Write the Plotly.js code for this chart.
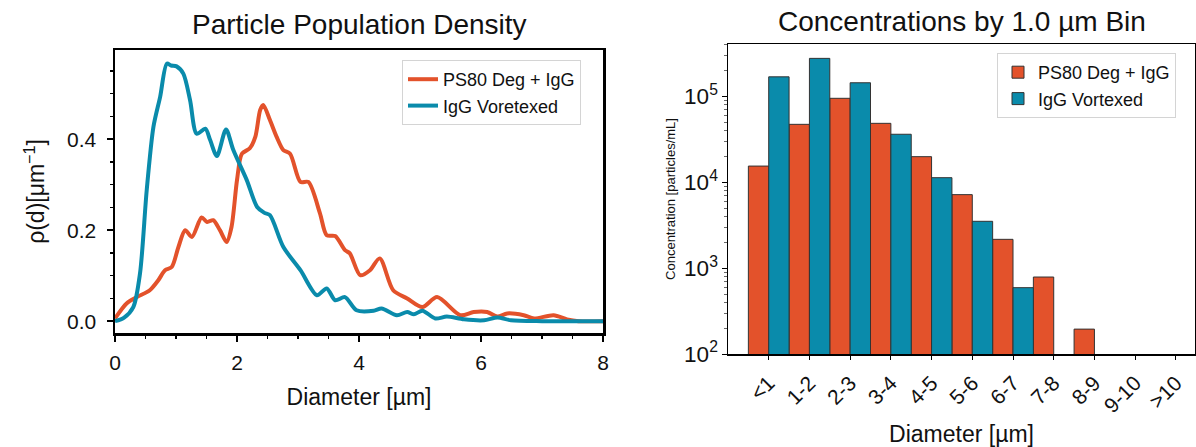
<!DOCTYPE html>
<html>
<head>
<meta charset="utf-8">
<script src="https://cdn.plot.ly/plotly-3.0.1.min.js"></script>
<style>html,body{margin:0;padding:0;background:#fff;}#chart{width:1196px;height:447px;}</style>
</head>
<body>
<div id="chart"></div>
<script>
// ---- Density curves (left panel) ----
const ps80X = [0, 0.19, 0.36, 0.57, 0.71, 0.82, 0.93, 1.04, 1.15, 1.26, 1.42, 1.51, 1.61, 1.72, 1.83, 1.91, 2.00, 2.08, 2.21, 2.30, 2.38, 2.43, 2.54, 2.65, 2.76, 2.87, 3.04, 3.17, 3.36, 3.47, 3.61, 3.77, 3.85, 4.02, 4.18, 4.34, 4.56, 4.79, 5.04, 5.28, 5.66, 5.88, 6.10, 6.27, 6.43, 6.70, 6.87, 7.19, 7.41, 7.6, 8.0];
const ps80Y = [0.006, 0.039, 0.053, 0.068, 0.09, 0.112, 0.119, 0.163, 0.20, 0.185, 0.228, 0.218, 0.222, 0.20, 0.174, 0.207, 0.31, 0.368, 0.38, 0.405, 0.464, 0.475, 0.442, 0.405, 0.376, 0.368, 0.306, 0.306, 0.237, 0.189, 0.187, 0.156, 0.149, 0.101, 0.112, 0.138, 0.068, 0.05, 0.031, 0.053, 0.013, 0.02, 0.02, 0.01, 0.017, 0.013, 0.006, 0.013, 0.004, 0, 0];
const iggX = [0, 0.15, 0.30, 0.41, 0.52, 0.63, 0.74, 0.85, 0.92, 1.01, 1.12, 1.23, 1.34, 1.48, 1.56, 1.67, 1.82, 1.94, 2.16, 2.33, 2.45, 2.54, 2.76, 3.04, 3.31, 3.47, 3.61, 3.77, 3.96, 4.24, 4.37, 4.62, 4.79, 4.90, 5.04, 5.25, 5.44, 5.72, 6.05, 6.27, 6.49, 7.0, 8.0];
const iggY = [0, 0.008, 0.031, 0.105, 0.288, 0.427, 0.493, 0.566, 0.562, 0.56, 0.544, 0.486, 0.412, 0.423, 0.398, 0.363, 0.421, 0.376, 0.31, 0.251, 0.238, 0.233, 0.163, 0.112, 0.057, 0.072, 0.046, 0.053, 0.024, 0.023, 0.028, 0.013, 0.02, 0.015, 0.023, 0.006, 0.01, 0.004, 0.002, 0.008, 0.002, 0, 0];

// ---- Binned concentrations (right panel) ----
const bins = ['<1', '1-2', '2-3', '3-4', '4-5', '5-6', '6-7', '7-8', '8-9', '9-10', '>10'];
const ps80Conc = [15500, 47500, 95500, 48800, 19950, 7200, 2170, 789, 195, null, null];
const iggConc = [170000, 279000, 145000, 36400, 11350, 3520, 593, null, null, null, null];

const seriesNames = ['PS80 Deg + IgG', 'IgG Voretexed', 'IgG Vortexed'];
const orange = '#E3522B';
const blue = '#0A8BAB';
const FONT = 'Liberation Sans, Arial, sans-serif';

const traces = [
  {x: ps80X, y: ps80Y, type: 'scatter', mode: 'lines', name: seriesNames[0],
   line: {color: orange, width: 4, shape: 'spline', smoothing: 0.8}, xaxis: 'x', yaxis: 'y', legend: 'legend'},
  {x: iggX, y: iggY, type: 'scatter', mode: 'lines', name: seriesNames[1],
   line: {color: blue, width: 4, shape: 'spline', smoothing: 0.8}, xaxis: 'x', yaxis: 'y', legend: 'legend'},
  {x: bins, y: ps80Conc, type: 'bar', name: seriesNames[0],
   marker: {color: orange, line: {color: '#333', width: 1}}, xaxis: 'x2', yaxis: 'y2', legend: 'legend2'},
  {x: bins, y: iggConc, type: 'bar', name: seriesNames[2],
   marker: {color: blue, line: {color: '#333', width: 1}}, xaxis: 'x2', yaxis: 'y2', legend: 'legend2'}
];

const layout = {
  width: 1196, height: 447,
  margin: {l: 0, r: 0, t: 0, b: 0},
  paper_bgcolor: '#fff', plot_bgcolor: '#fff',
  font: {family: FONT, color: '#111'},
  barmode: 'group', bargap: 0, bargroupgap: 0,
  xaxis: {
    domain: [115/1196, 603/1196], anchor: 'y', range: [0, 8],
    tickmode: 'linear', tick0: 0, dtick: 2,
    ticks: 'outside', ticklen: 6, tickwidth: 2, tickcolor: '#000',
    minor: {ticks: 'outside', dtick: 0.5, ticklen: 3, tickwidth: 1.5, tickcolor: '#000'},
    showline: true, linewidth: 2.5, linecolor: '#000', mirror: true,
    showgrid: false, zeroline: false, ticklabelstandoff: 3,
    tickfont: {size: 21, color: '#111'},
    title: {text: 'Diameter [µm]', font: {size: 23, color: '#111'}, standoff: 16}
  },
  yaxis: {
    domain: [1 - 333/447, 1 - 50/447], anchor: 'x', range: [-0.026, 0.596],
    tickmode: 'linear', tick0: 0, dtick: 0.2, tickformat: '.1f',
    ticks: 'outside', ticklen: 6, tickwidth: 2, tickcolor: '#000',
    minor: {ticks: 'outside', dtick: 0.05, ticklen: 3, tickwidth: 1.5, tickcolor: '#000'},
    showline: true, linewidth: 2.5, linecolor: '#000', mirror: true,
    showgrid: false, zeroline: false, ticklabelstandoff: 6,
    tickfont: {size: 21, color: '#111'},
    title: {text: 'ρ(d)[μm<sup>−1</sup>]', font: {size: 23, color: '#111'}, standoff: 16}
  },
  xaxis2: {
    domain: [728/1196, 1195/1196], anchor: 'y2', type: 'category',
    range: [-1.0, 10.47], tickangle: -45,
    ticks: 'outside', ticklen: 4, tickwidth: 1, tickcolor: '#000',
    showline: true, linewidth: 1.5, linecolor: '#000', mirror: true,
    showgrid: false, zeroline: false, ticklabelstandoff: 3,
    tickfont: {size: 21, color: '#111'},
    title: {text: 'Diameter [µm]', font: {size: 23, color: '#111'}, standoff: 10}
  },
  yaxis2: {
    domain: [1 - 354/447, 1 - 44/447], anchor: 'x2', type: 'log',
    range: [2, 5.613], dtick: 1, exponentformat: 'power',
    ticks: 'outside', ticklen: 5, tickwidth: 1, tickcolor: '#000',
    minor: {ticks: 'outside', ticklen: 3, tickwidth: 0.8, tickcolor: '#444'},
    showline: true, linewidth: 1.5, linecolor: '#000', mirror: true,
    showgrid: false, zeroline: false, ticklabelstandoff: 0,
    tickfont: {size: 18, color: '#111'},
    title: {text: 'Concentration [particles/mL]', font: {size: 13, color: '#111'}, standoff: 5}
  },
  legend: {
    x: 402/1196, y: 1 - 60/447, xanchor: 'left', yanchor: 'top',
    bgcolor: '#fff', bordercolor: '#d4d4d4', borderwidth: 1,
    font: {size: 18, color: '#111'}, tracegroupgap: 2
  },
  legend2: {
    x: 997/1196, y: 1 - 53/447, xanchor: 'left', yanchor: 'top',
    bgcolor: '#fff', bordercolor: '#d4d4d4', borderwidth: 1,
    font: {size: 18, color: '#111'}, tracegroupgap: 2
  },
  annotations: [
    {text: 'Particle Population Density', x: (115 + 603) / 2 / 1196, y: 1 - 25/447,
     xref: 'paper', yref: 'paper', xanchor: 'center', yanchor: 'middle', showarrow: false,
     font: {size: 28, color: '#111'}},
    {text: 'Concentrations by 1.0 µm Bin', x: (728 + 1195) / 2 / 1196, y: 1 - 21/447,
     xref: 'paper', yref: 'paper', xanchor: 'center', yanchor: 'middle', showarrow: false,
     font: {size: 28, color: '#111'}}
  ],
  showlegend: true
};

Plotly.newPlot('chart', traces, layout, {displayModeBar: false, staticPlot: true});
</script>
</body>
</html>
